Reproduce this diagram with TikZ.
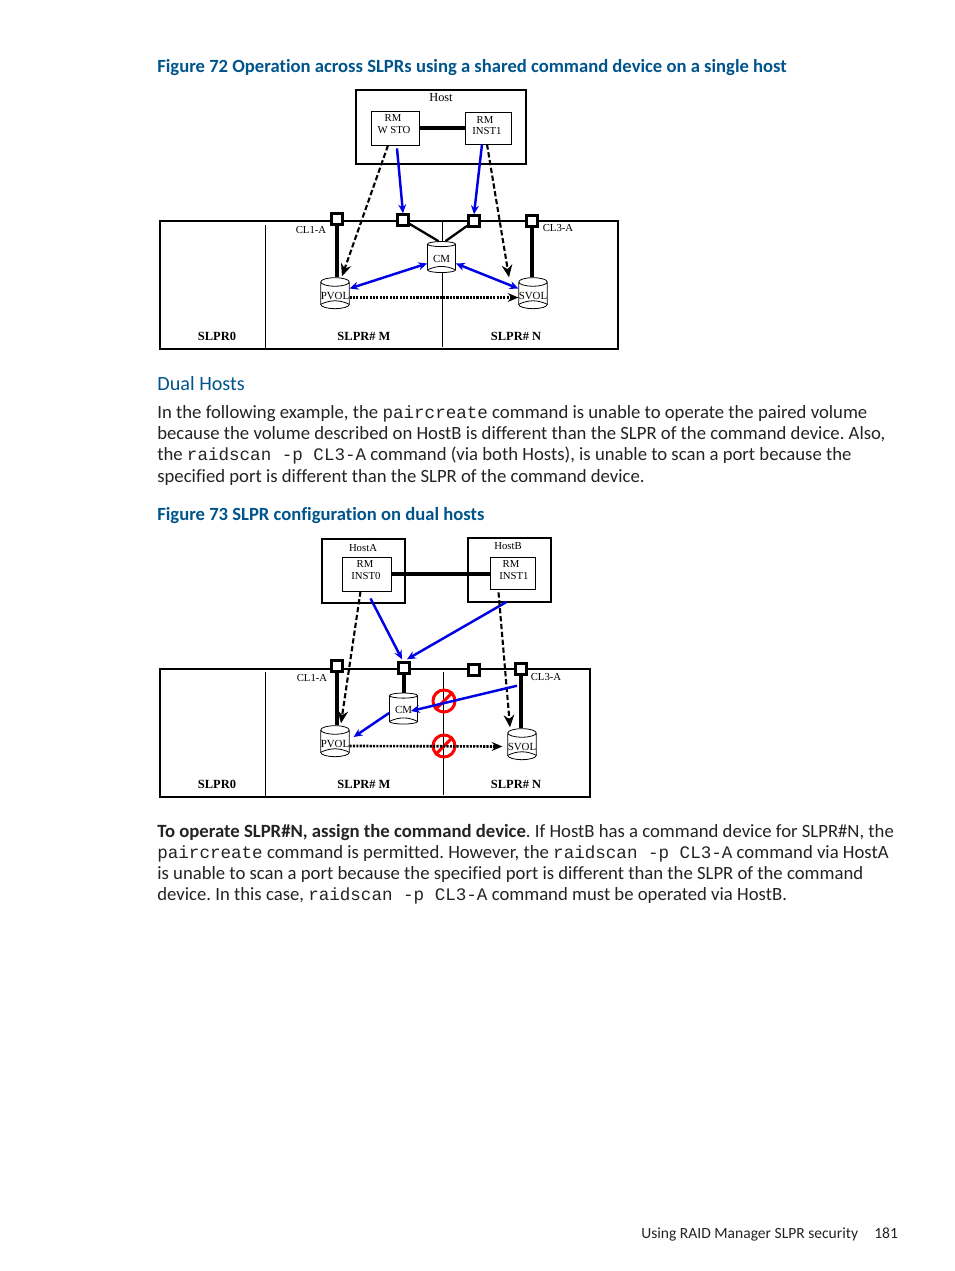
\documentclass[tikz,border=0pt]{standalone}
\usepackage{fontspec}
\setmainfont[Ligatures=NoCommon]{Carlito}
\newfontfamily\figfont{Liberation Serif}
\newfontfamily\codefont{Liberation Mono}
\newcommand{\code}[1]{{\codefont\fontsize{10}{12}\selectfont #1}}
\usetikzlibrary{arrows.meta,shapes.geometric}
\definecolor{hpblue}{RGB}{0,84,140}
\definecolor{bodytext}{RGB}{35,35,35}
\tikzset{
  title/.style={anchor=base west,inner sep=0pt,text=hpblue,font=\fontsize{10.6}{13}\selectfont\bfseries},
  body/.style={anchor=base west,inner sep=0pt,text=bodytext,font=\fontsize{10.65}{13}\selectfont},
  tag/.style={inner sep=0pt,font=\figfont\fontsize{6.1}{7}\selectfont},
  zone/.style={inner sep=0pt,font=\figfont\fontsize{7.1}{8}\selectfont\bfseries},
  hostbox/.style={draw,line width=1.1pt,inner sep=0pt},
  rmbox/.style={draw,line width=0.45pt,inner sep=0pt},
  port/.style={draw,line width=1.7pt,fill=white,minimum size=0.21cm,inner sep=0pt},
  vol/.style={draw,shape=cylinder,shape border rotate=90,aspect=0.3,line width=0.45pt,fill=white,inner sep=0pt,minimum width=0.56cm,minimum height=0.62cm,font=\figfont\fontsize{6.2}{7}\selectfont},
  stopsign/.style={draw=red,circle,line width=1.7pt,minimum size=0.44cm,inner sep=0pt},
  link/.style={line width=1.8pt},
  cmd/.style={blue!90!black,line width=1.4pt,-{Stealth[length=5pt,width=4.5pt]}},
  cmdboth/.style={cmd,{Stealth[length=5pt,width=4.5pt]}-{Stealth[length=5pt,width=4.5pt]}},
  route/.style={line width=1.2pt,dash pattern=on 3pt off 1.5pt,-{Stealth[length=7pt,width=6pt]}},
  copyline/.style={line width=1.5pt,dash pattern=on 1.2pt off 0.7pt,-{Stealth[length=6pt,width=5pt]}}
}
\begin{document}
\frenchspacing
\begin{tikzpicture}[x=0.02cm,y=-0.02cm]
\useasboundingbox (0,0) rectangle (954,1271);
% page text
\node[title] (title72) at (157,72) {Figure 72 Operation across SLPRs using a shared command device on a single host};
\node[anchor=base west,inner sep=0pt,text=hpblue,font=\fontsize{11.5}{14}\selectfont] (dual) at (157,390) {Dual Hosts};
\node[body] (l1) at (157,418) {In the following example, the \code{paircreate} command is unable to operate the paired volume};
\node[body] (l2) at (157,439) {because the volume described on HostB is different than the SLPR of the command device. Also,};
\node[body] (l3) at (157,460) {the \code{raidscan -p CL3-A} command (via both Hosts), is unable to scan a port because the};
\node[body] (l4) at (157,482) {specified port is different than the SLPR of the command device.};
\node[title] (title73) at (157,520) {Figure 73 SLPR configuration on dual hosts};
\node[body] (m1) at (157,837) {\textbf{To operate SLPR\#N, assign the command device}. If HostB has a command device for SLPR\#N, the};
\node[body] (m2) at (157,858) {\code{paircreate} command is permitted. However, the \code{raidscan -p CL3-A} command via HostA};
\node[body] (m3) at (157,879) {is unable to scan a port because the specified port is different than the SLPR of the command};
\node[body] (m4) at (157,900) {device. In this case, \code{raidscan -p CL3-A} command must be operated via HostB.};
\node[body,font=\fontsize{8.85}{11}\selectfont] (foot) at (641,1238) {Using RAID Manager SLPR security};
\node[body,font=\fontsize{8.85}{11}\selectfont] (page) at (874,1238) {181};
% figure 72
\node[hostbox,minimum width=3.4cm,minimum height=1.48cm] (host) at (441,127) {};
\node[tag,font=\figfont\fontsize{7}{8}\selectfont] (hostname) at (441,98) {Host};
\node[rmbox,minimum width=0.96cm,minimum height=0.68cm] (inst0) at (395,128) {};
\node[rmbox,minimum width=0.92cm,minimum height=0.64cm] (inst1) at (488,128) {};
\node[tag] (rm0) at (393,118) {RM};
\node[tag] (rm0name) at (394,130) {W STO};
\node[tag] (rm1) at (485,120) {RM};
\node[tag] (rm1name) at (487,131) {INST1};
\draw[link] (inst0) -- (inst1);
\node[hostbox,minimum width=9.16cm,minimum height=2.56cm] (frame) at (389,285) {};
\draw[line width=0.5pt] (265,225) -- (265,349);
\draw[line width=0.5pt] (442,221) -- (442,347);
\node[vol] (cm) at (441.5,258.5) {CM};
\node[vol] (pvol) at (335,295.5) {PVOL};
\node[vol] (svol) at (533,295.5) {SVOL};
\draw[line width=0.45pt] (cm.before bottom) to[bend right=25] (cm.after bottom);
\draw[line width=0.45pt] (pvol.before bottom) to[bend right=25] (pvol.after bottom);
\draw[line width=0.45pt] (svol.before bottom) to[bend right=25] (svol.after bottom);
\node[port] (p1) at (337,219) {};
\node[port] (p2) at (403,220) {};
\node[port] (p3) at (474,221) {};
\node[port] (p4) at (532,221) {};
\draw[link] (p1) -- (p1|-pvol.north);
\draw[link] (p4) -- (p4|-svol.north);
\draw[line width=1.3pt] (p2) -- ([xshift=-0.06cm]cm.north);
\draw[line width=1.3pt] (p3) -- ([xshift=0.08cm]cm.north);
\draw[cmd] ([xshift=0.04cm,yshift=-0.06cm]inst0.south) -- (p2.north);
\draw[cmd] ([xshift=-0.12cm]inst1.south) -- (p3.north);
\draw[route] ([xshift=-0.14cm]inst0.south) -- ([xshift=0.14cm,yshift=0.02cm]pvol.north);
\draw[route] ([xshift=-0.02cm]inst1.south) -- ([xshift=-0.48cm,yshift=0cm]svol.north);
\draw[cmdboth] ([yshift=-0.1cm]cm.east) -- ([yshift=0.14cm]svol.west);
\draw[cmdboth] ([yshift=-0.1cm]cm.west) -- ([yshift=0.14cm]pvol.east);
\draw[copyline] ([yshift=-0.04cm]pvol.east) -- ([yshift=-0.04cm]svol.west);
\node[tag] (cl1) at (311,230) {CL1-A};
\node[tag] (cl3) at (558,228) {CL3-A};
\node[zone] (z0) at (217,336) {SLPR0};
\node[zone] (zm) at (364,336) {SLPR\# M};
\node[zone] (zn) at (516,336) {SLPR\# N};
% figure 73
\node[hostbox,minimum width=1.66cm,minimum height=1.28cm] (hosta) at (363.5,571) {};
\node[hostbox,minimum width=1.66cm,minimum height=1.28cm] (hostb) at (509.5,570) {};
\node[tag] (hostaname) at (363,548) {HostA};
\node[tag] (hostbname) at (508,546) {HostB};
\node[rmbox,minimum width=0.98cm,minimum height=0.68cm] (inst0b) at (366.5,574) {};
\node[rmbox,minimum width=0.9cm,minimum height=0.64cm] (inst1b) at (512.5,573) {};
\node[tag] (rm0b) at (365,564) {RM};
\node[tag] (rm0bname) at (366,576) {INST0};
\node[tag] (rm1b) at (511,564) {RM};
\node[tag] (rm1bname) at (514,576) {INST1};
\draw[link] (inst0b.east) -- (inst0b.east-|inst1b.west);
\node[hostbox,minimum width=8.6cm,minimum height=2.56cm] (frameb) at (375,733) {};
\draw[line width=0.5pt] (265,672) -- (265,797);
\draw[line width=0.5pt] (443,672) -- (443,795);
\node[vol] (cmb) at (403.5,710) {CM};
\node[vol] (pvolb) at (335,743.5) {PVOL};
\node[vol] (svolb) at (522,746.5) {SVOL};
\draw[line width=0.45pt] (cmb.before bottom) to[bend right=25] (cmb.after bottom);
\draw[line width=0.45pt] (pvolb.before bottom) to[bend right=25] (pvolb.after bottom);
\draw[line width=0.45pt] (svolb.before bottom) to[bend right=25] (svolb.after bottom);
\node[port] (q1) at (337,666) {};
\node[port] (q2) at (404,668) {};
\node[port] (q3) at (474,670) {};
\node[port] (q4) at (521,669) {};
\draw[link] (q1) -- (q1|-pvolb.north);
\draw[link] (q2) -- (q2|-cmb.north);
\draw[link] (q4) -- (q4|-svolb.north);
\node[stopsign] (stop1) at (444,701) {};
\node[stopsign] (stop2) at (444,746) {};
\draw[red,line width=1.7pt] (stop1.south west) -- (stop1.north east);
\draw[red,line width=1.7pt] (stop2.south west) -- (stop2.north east);
\draw[cmd] ([xshift=0.08cm,yshift=-0.14cm]inst0b.south) -- ([xshift=-0.04cm,yshift=0.04cm]q2.north);
\draw[cmd] ([xshift=-0.06cm,yshift=0.02cm]hostb.south) -- ([xshift=0.06cm,yshift=0.04cm]q2.north);
\draw[route] ([xshift=-0.12cm]inst0b.south) -- ([xshift=0.12cm,yshift=0.04cm]pvolb.north);
\draw[route] ([xshift=-0.28cm,yshift=-0.06cm]inst1b.south) -- ([xshift=-0.24cm,yshift=0.02cm]svolb.north);
\draw[cmd] ([xshift=-0.08cm,yshift=-0.2cm]q4.south) -- ([xshift=-0.14cm,yshift=-0.02cm]cmb.east);
\draw[cmd] ([yshift=-0.06cm]cmb.west) -- ([xshift=0.08cm,yshift=0.13cm]pvolb.east);
\draw[copyline,shorten >=0.1cm] ([yshift=-0.05cm]pvolb.east) -- (svolb.west);
\node[tag] (cl1b) at (312,678) {CL1-A};
\node[tag] (cl3b) at (546,677) {CL3-A};
\node[zone] (z0b) at (217,784) {SLPR0};
\node[zone] (zmb) at (364,784) {SLPR\# M};
\node[zone] (znb) at (516,784) {SLPR\# N};
\end{tikzpicture}
\end{document}
